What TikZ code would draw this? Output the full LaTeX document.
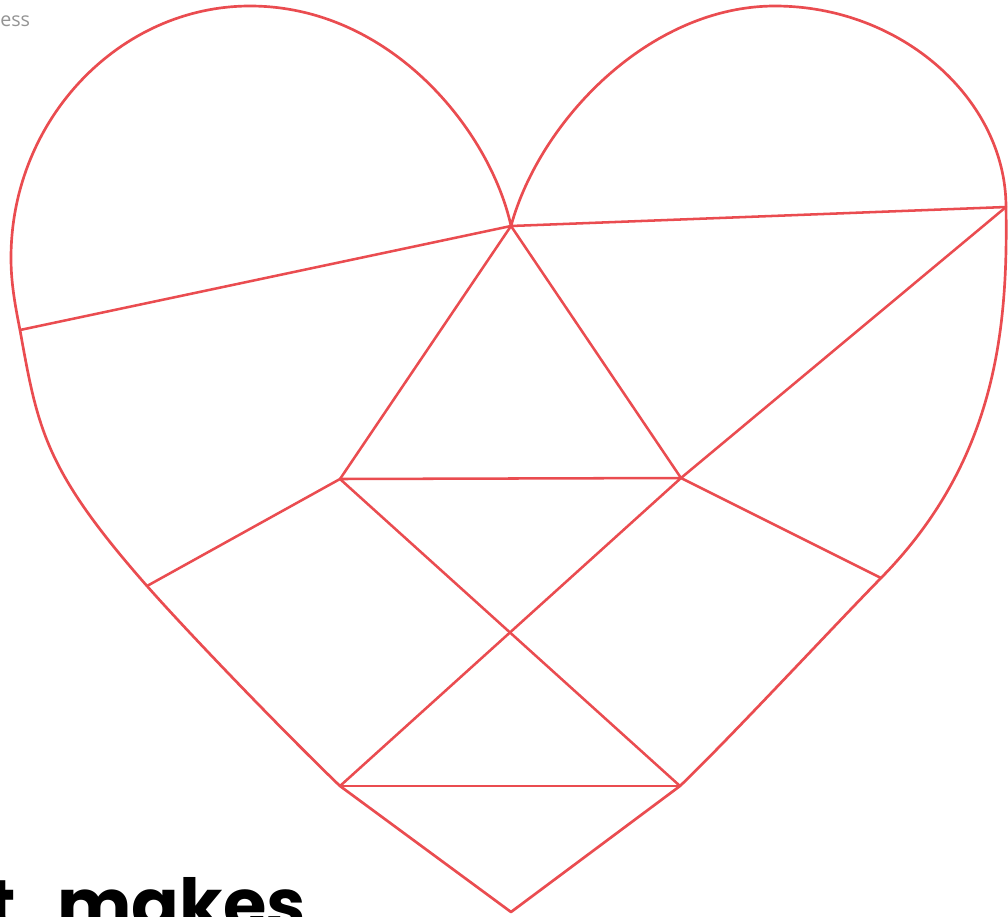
\documentclass[tikz,border=0pt]{standalone}
\usepackage{fontspec}
\usepackage{xcolor}
\usepackage{tikz}
\usetikzlibrary{calc}
\newfontfamily\headlinefont{Poppins}
\newfontfamily\brandfont{Open Sans}
\definecolor{heartred}{RGB}{234,76,80}
\tikzset{
  heartline/.style={draw=heartred, line width=1.9pt, line join=round},
  cutline/.style={draw=heartred, line width=1.8pt, line cap=round},
  brandtext/.style={font=\brandfont\fontsize{14}{16}\selectfont, text=black!42, inner sep=0pt},
  headline/.style={font=\headlinefont\bfseries\fontsize{50}{54}\selectfont, text=black, inner sep=0pt}
}

\begin{document}
\begin{tikzpicture}[x=0.025cm, y=-0.025cm]
\useasboundingbox (0,0) rectangle (1008,916);
\clip (0,0) rectangle (1008,916);
% corner points of the pieces
\coordinate (cusp) at (511,226);
\coordinate (rightpt) at (1006,207);
\coordinate (leftpt) at (20,330);
\coordinate (triL) at (340,479);
\coordinate (triR) at (681,478);
\coordinate (lowL) at (147,586);
\coordinate (lowR) at (881,578);
\coordinate (botL) at (340,786);
\coordinate (botR) at (680,786);
\coordinate (tip) at (511,912);
\coordinate (lobeL) at (250,6);
\coordinate (lobeR) at (775,6);
\coordinate (sideL) at (11,258);
% outline of the heart
\draw[heartline] (tip) -- (botL)
  .. controls (290,738) and (193,638) .. (lowL)
  .. controls (45,470) and (38,430) .. (leftpt)
  .. controls (14,300) and (11,280) .. (sideL)
  .. controls (11,119) and (120,6) .. (lobeL)
  .. controls (390,6) and (490,130) .. (cusp)
  .. controls (540,120) and (650,6) .. (lobeR)
  .. controls (902,6) and (1006,100) .. (rightpt)
  .. controls (1008,327) and (997,460) .. (lowR)
  .. controls (832,628) and (730,738) .. (botR)
  -- cycle;
% cuts
\draw[cutline] (cusp) -- (leftpt);
\draw[cutline] (cusp) -- (rightpt);
\draw[cutline] (cusp) -- (triL);
\draw[cutline] (cusp) -- (triR);
\draw[cutline] (triL) -- (triR);
\draw[cutline] (triR) -- (rightpt);
\draw[cutline] (triL) -- (lowL);
\draw[cutline] (triR) -- (lowR);
\draw[cutline] (triL) -- (botR);
\draw[cutline] (triR) -- (botL);
\draw[cutline] (botL) -- (botR);
% texts
\node[brandtext, anchor=north west] (brand) at (0,15) {ess};
\node[headline, anchor=base west] (title) at (-13,929) {t\hspace{19pt} makes};
\end{tikzpicture}
\end{document}
